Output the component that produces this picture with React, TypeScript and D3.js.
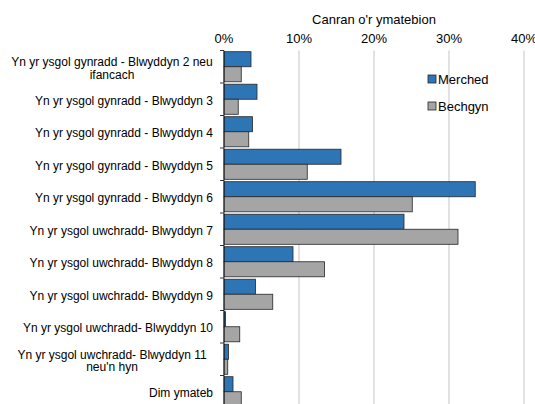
import * as d3 from "d3";

const categories = [
  ["Yn yr ysgol gynradd - Blwyddyn 2 neu", "ifancach"],
  ["Yn yr ysgol gynradd - Blwyddyn 3"],
  ["Yn yr ysgol gynradd - Blwyddyn 4"],
  ["Yn yr ysgol gynradd - Blwyddyn 5"],
  ["Yn yr ysgol gynradd - Blwyddyn 6"],
  ["Yn yr ysgol uwchradd- Blwyddyn 7"],
  ["Yn yr ysgol uwchradd- Blwyddyn 8"],
  ["Yn yr ysgol uwchradd- Blwyddyn 9"],
  ["Yn yr ysgol uwchradd- Blwyddyn 10"],
  ["Yn yr ysgol uwchradd- Blwyddyn 11", "neu'n hyn"],
  ["Dim ymateb"],
];
const merched = [3.6, 4.4, 3.8, 15.6, 33.5, 24.0, 9.2, 4.2, 0.2, 0.6, 1.2];
const bechgyn = [2.3, 1.9, 3.3, 11.1, 25.1, 31.2, 13.4, 6.5, 2.1, 0.5, 2.3];
const seriesNames = ["Merched", "Bechgyn"];
const seriesColors = ["#2e75b6", "#a5a5a5"];
const xTicks = [0, 10, 20, 30, 40];
const axisTitle = "Canran o'r ymatebion";

const App = () => {
  const width = 535;
  const height = 404;
  const left = 224;
  const top = 50.5;
  const step = 32.5;
  const font = "'Liberation Sans', Arial, sans-serif";

  const keys = categories.map((_, i) => String(i));
  const y = d3
    .scaleBand()
    .domain(keys)
    .range([top, top + step * keys.length]);
  const inner = d3
    .scaleBand()
    .domain(seriesNames)
    .range([0, y.bandwidth()])
    .paddingOuter(0.08);
  const x = d3.scaleLinear().domain([0, 40]).range([left, left + 300]);
  const bottom = top + step * keys.length;

  return (
    <div>
      <style>{`body{margin:0}`}</style>
      <svg width={width} height={height} style={{ display: "block" }} fontFamily={font}>
        <rect width={width} height={height} fill="#fff" />
        <text x={x(20)} y={24} textAnchor="middle" fontSize={13} fill="#000">
          {axisTitle}
        </text>
        {xTicks.map((t) => (
          <g key={t}>
            {t > 0 && (
              <line x1={x(t)} x2={x(t)} y1={top} y2={bottom} stroke="#d9d9d9" strokeWidth={1.5} />
            )}
            <text x={x(t)} y={43} textAnchor="middle" fontSize={13} fill="#000">
              {t}%
            </text>
          </g>
        ))}
        {keys.map((k, i) => {
          const vals = [merched[i], bechgyn[i]];
          const y0 = y(k)!;
          const lines = categories[i];
          const cy = y0 + step / 2 + 1.5;
          return (
            <g key={k}>
              {vals.map((v, j) => (
                <rect
                  key={j}
                  x={x(0)}
                  y={y0 + inner(seriesNames[j])!}
                  width={x(v) - x(0)}
                  height={inner.bandwidth()}
                  fill={seriesColors[j]}
                  stroke="#262626"
                  strokeWidth={0.8}
                />
              ))}
              {lines.length === 1 ? (
                <text x={213} y={cy} dy="0.35em" textAnchor="end" fontSize={12} fill="#000">
                  {lines[0]}
                </text>
              ) : (
                <text textAnchor="middle" fontSize={12} fill="#000">
                  {lines.map((l, li) => (
                    <tspan key={li} x={112} y={cy - 6 + li * 12.5} dy="0.35em">
                      {l}
                    </tspan>
                  ))}
                </text>
              )}
            </g>
          );
        })}
        {d3.range(keys.length + 1).map((i) => (
          <line
            key={i}
            x1={left - 4}
            x2={left}
            y1={top + i * step}
            y2={top + i * step}
            stroke="#000"
            strokeWidth={0.8}
          />
        ))}
        <line x1={left} x2={left} y1={top} y2={bottom} stroke="#000" strokeWidth={0.8} />
        {seriesNames.map((s, j) => (
          <g key={s} transform={`translate(428,${75 + j * 27})`}>
            <rect width={8} height={8} fill={seriesColors[j]} stroke="#262626" strokeWidth={0.8} />
            <text x={10} y={4} dy="0.35em" fontSize={13} fill="#000">
              {s}
            </text>
          </g>
        ))}
      </svg>
    </div>
  );
};

export default App;
